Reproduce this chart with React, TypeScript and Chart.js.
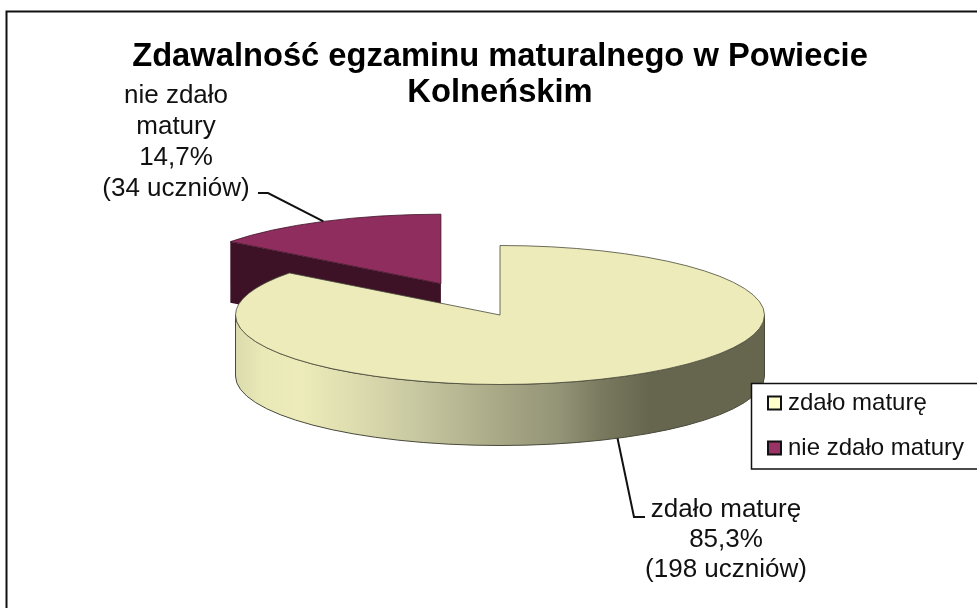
import React, { useEffect, useRef } from "react";
import { Chart, registerables } from "chart.js";

Chart.register(...registerables);

// Back slice first, so that the front slice is painted over its wall.
const categories = ["nie zdało matury", "zdało maturę"];
const studentCounts = [34, 198];
const percentLabels = ["14,7%", "85,3%"];
const labelLines = [["nie zdało", "matury"], ["zdało maturę"]];
const titleLines = ["Zdawalność egzaminu maturalnego w Powiecie", "Kolneńskim"];
const explodeBy = [133, 0];

const FONT = "'Liberation Sans', Arial, sans-serif";
const topColors = ["#8f2d5f", "#ecebb9"];
const swatchColors = ["#993366", "#ffffcc"];
const faceColors = ["#3d1226", "#66664f"];
const OUTLINE = "#4a4a3c";

const CX = 500;
const CY = 315;
const RX = 264.5;
const RY = 69.5;
const DEPTH = 61;

const wallStops: [number, string][] = [
  [236, "#dcdbad"],
  [262, "#e9e8b7"],
  [300, "#ecebb9"],
  [360, "#dcdbae"],
  [420, "#c6c6a0"],
  [500, "#a8a886"],
  [560, "#939377"],
  [600, "#7a7a60"],
  [650, "#66664f"],
  [764, "#66664f"],
];

const pie3d = {
  id: "pie3d",
  beforeLayout(chart: any) {
    // The legend sits on top of the pie, so it is painted after the datasets.
    const l = chart.legend;
    if (l) l._layers = () => [{ z: 1, draw: () => l.draw() }];
  },
  afterLayout(chart: any) {
    const t = chart.titleBlock;
    if (t) { t.left = 23; t.right = 977; t.width = 954; }
    const l = chart.legend;
    if (l) {
      const w = l.width;
      l.left = 752;
      l.right = l.left + w;
      l.top = 370;
      l.bottom = l.top + l.height;
    }
  },
  afterDatasetUpdate(chart: any, args: any) {
    const meta = chart.getDatasetMeta(args.index);
    chart.$c0 = { x: (chart.chartArea.left + chart.chartArea.right) / 2, y: (chart.chartArea.top + chart.chartArea.bottom) / 2 };
    meta.data.forEach((arc: any, i: number) => {
      const mid = (arc.startAngle + arc.endAngle) / 2;
      arc.x += Math.cos(mid) * explodeBy[i];
      arc.y += Math.sin(mid) * explodeBy[i];
    });
  },
  beforeDatasetDraw(chart: any, args: any) {
    const ctx = chart.ctx;
    const meta = chart.getDatasetMeta(args.index);
    const c0 = chart.$c0;
    const k = RY / RX;
    const px = (x: number) => CX + (x - c0.x);
    const py = (y: number) => CY + (y - c0.y) * k;

    meta.data.forEach((arc: any, i: number) => {
      const cx = px(arc.x);
      const cy = py(arc.y);
      const edges: [number, number][] = [
        [arc.startAngle, arc.startAngle - Math.PI / 2],
        [arc.endAngle, arc.endAngle + Math.PI / 2],
      ];
      edges.forEach(([a, normal]) => {
        if (Math.sin(normal) <= 0.01) return;
        const ex = cx + Math.cos(a) * RX;
        const ey = cy + Math.sin(a) * RY;
        ctx.beginPath();
        ctx.moveTo(cx, cy);
        ctx.lineTo(ex, ey);
        ctx.lineTo(ex, ey + DEPTH);
        ctx.lineTo(cx, cy + DEPTH);
        ctx.closePath();
        ctx.fillStyle = faceColors[i];
        ctx.fill();
      });
      // The outer wall shows only on the near half of the ellipse.
      const lo = Math.max(arc.startAngle, 0);
      const hi = Math.min(arc.endAngle, Math.PI);
      if (hi > lo) {
        const g = ctx.createLinearGradient(CX - RX, 0, CX + RX, 0);
        wallStops.forEach(([x, c]) => {
          const f = (x - (CX - RX)) / (2 * RX);
          g.addColorStop(Math.min(1, Math.max(0, f)), c);
        });
        ctx.beginPath();
        ctx.ellipse(cx, cy, RX, RY, 0, lo, hi);
        ctx.ellipse(cx, cy + DEPTH, RX, RY, 0, hi, lo, true);
        ctx.closePath();
        ctx.fillStyle = g;
        ctx.fill();
        ctx.strokeStyle = OUTLINE;
        ctx.lineWidth = 1;
        ctx.stroke();
      }
    });

    ctx.save();
    ctx.translate(CX, CY);
    ctx.scale(1, k);
    ctx.translate(-c0.x, -c0.y);
  },
  afterDatasetDraw(chart: any) {
    chart.ctx.restore();
  },
  afterDatasetsDraw(chart: any) {
    const ctx = chart.ctx;
    const meta = chart.getDatasetMeta(0);
    const c0 = chart.$c0;
    const k = RY / RX;

    const anchors = meta.data.map((arc: any) => {
      const cx = CX + (arc.x - c0.x);
      const cy = CY + (arc.y - c0.y) * k;
      const mid = (arc.startAngle + arc.endAngle) / 2;
      const nearSide = Math.sin(mid) > 0;
      return { cx, cy, x: cx + Math.cos(mid) * RX, y: cy + Math.sin(mid) * RY + (nearSide ? DEPTH : 0) };
    });

    // Thin slice outlines.
    meta.data.forEach((arc: any, i: number) => {
      const { cx, cy } = anchors[i];
      ctx.beginPath();
      ctx.moveTo(cx, cy);
      ctx.ellipse(cx, cy, RX, RY, 0, arc.startAngle, arc.endAngle);
      ctx.closePath();
      ctx.strokeStyle = i === 0 ? "#3d1226" : OUTLINE;
      ctx.lineWidth = 0.8;
      ctx.stroke();
    });

    // Leader lines.
    ctx.strokeStyle = "#111111";
    ctx.lineWidth = 2;
    ctx.beginPath();
    ctx.moveTo(anchors[0].x, anchors[0].y);
    ctx.lineTo(268, 193);
    ctx.lineTo(258, 193);
    ctx.stroke();
    ctx.beginPath();
    ctx.moveTo(anchors[1].x, anchors[1].y);
    ctx.lineTo(634, 517);
    ctx.lineTo(645, 517);
    ctx.stroke();

    // Data labels.
    ctx.fillStyle = "#111111";
    ctx.font = `26px ${FONT}`;
    ctx.textAlign = "center";
    ctx.textBaseline = "middle";
    const label = (i: number, x: number, y: number, step: number) => {
      const lines = [...labelLines[i], percentLabels[i], `(${studentCounts[i]} uczniów)`];
      lines.forEach((s, n) => ctx.fillText(s, x, y + n * step));
    };
    label(0, 176, 96, 31);
    label(1, 726, 510, 30);

    // Legend frame; the legend itself is painted right after this hook.
    ctx.fillStyle = "#ffffff";
    ctx.fillRect(751, 383, 226, 86);
    ctx.strokeStyle = "#111111";
    ctx.lineWidth = 1.5;
    ctx.beginPath();
    ctx.moveTo(977, 383.5);
    ctx.lineTo(751.5, 383.5);
    ctx.lineTo(751.5, 469);
    ctx.lineTo(977, 469);
    ctx.stroke();
  },
  beforeDraw(chart: any) {
    const ctx = chart.ctx;
    ctx.fillStyle = "#ffffff";
    ctx.fillRect(0, 0, 977, 608);
    ctx.strokeStyle = "#111111";
    ctx.lineWidth = 2;
    ctx.beginPath();
    ctx.moveTo(6.5, 608);
    ctx.lineTo(6.5, 11.5);
    ctx.lineTo(977, 11.5);
    ctx.stroke();
  },
};

export default function App() {
  const ref = useRef<HTMLCanvasElement | null>(null);
  useEffect(() => {
    if (!ref.current) return;
    const total = studentCounts.reduce((a, b) => a + b, 0);
    const chart = new Chart(ref.current, {
      type: "pie",
      data: {
        labels: categories,
        datasets: [
          {
            data: studentCounts,
            backgroundColor: topColors,
            borderWidth: 0,
            clip: false,
          } as any,
        ],
      },
      options: {
        responsive: false,
        animation: false,
        radius: RX,
        rotation: (-studentCounts[0] / total) * 360,
        layout: { padding: 0 },
        plugins: {
          tooltip: { enabled: false },
          title: {
            display: true,
            text: titleLines,
            color: "#000000",
            font: { family: FONT, size: 32.7, weight: "bold", lineHeight: 36 / 32.7 },
            padding: { top: 39, bottom: 0 },
          },
          legend: {
            display: true,
            position: "right",
            align: "start",
            reverse: true,
            fullSize: false,
            labels: {
              usePointStyle: true,
              boxWidth: 3,
              boxHeight: 13,
              padding: 21,
              color: "#111111",
              font: { family: FONT, size: 24, lineHeight: 1 },
              generateLabels: (c: any) =>
                c.data.labels.map((text: string, i: number) => ({
                  text,
                  fillStyle: swatchColors[i],
                  strokeStyle: "#111111",
                  fontColor: "#111111",
                  lineWidth: 2,
                  pointStyle: "rect",
                  index: i,
                })),
            },
          },
        },
      } as any,
      plugins: [pie3d],
    });
    return () => chart.destroy();
  }, []);
  return (
    <canvas
      ref={ref}
      width={977}
      height={608}
      style={{ position: "fixed", left: 0, top: 0, display: "block", width: 977, height: 608 }}
    />
  );
}
